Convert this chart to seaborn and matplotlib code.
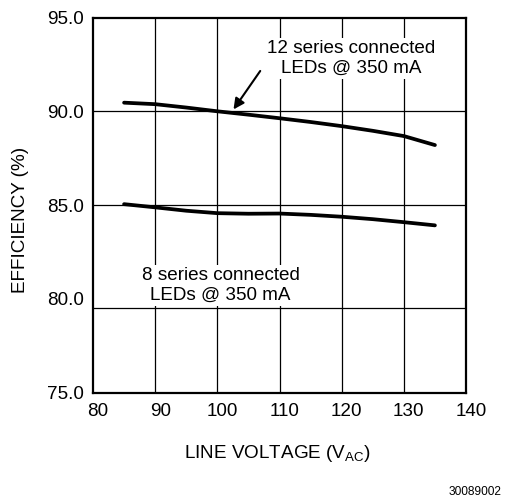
import matplotlib
matplotlib.use("Agg")
import matplotlib.pyplot as plt
import matplotlib.transforms as mtransforms
import numpy as np
import pandas as pd
import seaborn as sns

# ---- data ----
voltage = [85, 90, 95, 100, 105, 110, 115, 120, 125, 130, 135]
eff_12_leds = [90.46, 90.38, 90.20, 90.00, 89.82, 89.63, 89.43, 89.21, 88.96, 88.68, 88.20]
eff_8_leds = [85.05, 84.88, 84.70, 84.57, 84.54, 84.55, 84.48, 84.38, 84.25, 84.09, 83.92]

x_ticks = [80, 90, 100, 110, 120, 130, 140]
y_ticks = [75.0, 80.0, 85.0, 90.0, 95.0]
h_grid = [79.5, 85.0, 90.0]

label_12 = "12 series connected\nLEDs @ 350 mA"
label_8 = "8 series connected\nLEDs @ 350 mA"
fig_id = "30089002"

sns.set_theme(style="white")
plt.rcParams["font.family"] = ["Liberation Sans", "DejaVu Sans"]
plt.rcParams["text.color"] = "black"
plt.rcParams["axes.labelcolor"] = "black"
plt.rcParams["mathtext.fontset"] = "custom"
plt.rcParams["mathtext.rm"] = "Liberation Sans"
plt.rcParams["mathtext.it"] = "Liberation Sans"

FS = 13.6

df = pd.DataFrame({
    "voltage": voltage * 2,
    "efficiency": eff_12_leds + eff_8_leds,
    "series": ["12"] * len(voltage) + ["8"] * len(voltage),
})

fig = plt.figure(figsize=(5.05, 4.99), dpi=100)
ax = fig.add_axes([93 / 505, 1 - 392.7 / 499, 373 / 505, 375.2 / 499])

# grid
for xv in x_ticks[1:-1]:
    ax.axvline(xv, color="black", lw=0.9, zorder=1)
for yv in h_grid:
    ax.axhline(yv, color="black", lw=0.9, zorder=1)

sns.lineplot(data=df, x="voltage", y="efficiency", units="series", estimator=None,
             color="black", lw=2.7, ax=ax, zorder=3, legend=False)
for ln in ax.get_lines():
    ln.set_solid_capstyle("round")
    ln.set_solid_joinstyle("round")

ax.set_xlim(80, 140)
ax.set_ylim(75, 95)
ax.set_xticks(x_ticks)
ax.set_xticklabels([str(v) for v in x_ticks])
ax.set_yticks(y_ticks)
ax.set_yticklabels([f"{v:.1f}" for v in y_ticks])
ax.tick_params(axis="both", length=0, labelsize=FS, colors="black")
ax.tick_params(axis="y", pad=6.5)
ax.tick_params(axis="x", pad=7.5)
offset = mtransforms.ScaledTranslation(0.05, 0, fig.dpi_scale_trans)
for lab in ax.get_xticklabels():
    lab.set_transform(lab.get_transform() + offset)

for sp in ax.spines.values():
    sp.set_color("black")
    sp.set_linewidth(1.6)
    sp.set_zorder(5)

ax.set_xlabel(r"LINE VOLTAGE (V$_{\mathregular{AC}}$)", fontsize=FS, color="black")
ax.xaxis.set_label_coords((277 - 93) / 373, (392.7 - 443) / 375.2)
ax.set_ylabel("EFFICIENCY (%)", fontsize=FS, color="black")
ax.yaxis.set_label_coords((29 - 93) / 373, (392.7 - 220) / 375.2)

bbox = dict(facecolor="white", edgecolor="none", pad=1.5)
ax.text(121.6, 92.83, label_12, ha="center", va="center", fontsize=FS,
        linespacing=1.2, bbox=bbox, zorder=4)
ax.text(100.5, 80.7, label_8, ha="center", va="center", fontsize=FS,
        linespacing=1.2, bbox=bbox, zorder=4)

ax.annotate("", xy=(102.6, 90.1), xytext=(106.9, 92.15),
            arrowprops=dict(arrowstyle="-|>", color="black", lw=1.5,
                            mutation_scale=16, shrinkA=0, shrinkB=0),
            zorder=4)

fig.text(502 / 505, 1 - 492 / 499, fig_id, ha="right", va="center", fontsize=8.6)

fig.savefig("out.png", dpi=100)
